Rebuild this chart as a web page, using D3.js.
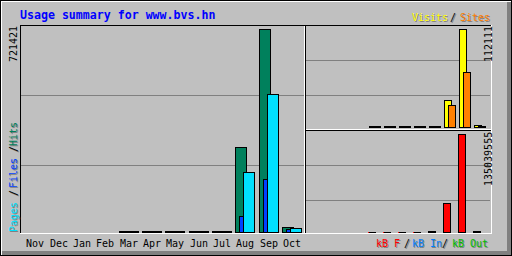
<!DOCTYPE html>
<html>
<head>
<meta charset="utf-8">
<script src="https://cdn.jsdelivr.net/npm/d3@7"></script>
<style>
  body { margin: 0; background: #c0c0c0; }
  svg text { font-family: "DejaVu Sans Mono", monospace; }
</style>
</head>
<body>
<div id="usage-chart"></div>
<script>
// Usage summary chart (webalizer style)

const months = ["Nov", "Dec", "Jan", "Feb", "Mar", "Apr", "May", "Jun", "Jul", "Aug", "Sep", "Oct"];
const hits   = [0, 0, 0, 0, 3000, 3000, 3000, 3000, 3000, 302000, 721421, 17700];
const files  = [0, 0, 0, 0, 2000, 2000, 2000, 2000, 2000, 56000, 187500, 10000];
const pages  = [0, 0, 0, 0, 2500, 2500, 2500, 2500, 2500, 212000, 490600, 14000];
const visits = [0, 0, 0, 0, 1000, 1000, 1000, 1000, 1000, 30900, 112111, 2300];
const sites  = [0, 0, 0, 0, 900, 900, 900, 900, 900, 25200, 62900, 1500];
const kbytes = [0, 0, 0, 0, 300000, 300000, 300000, 300000, 1500000, 40000000, 135039555, 2000000];

(function () {
  var draw_chart = function () {
    const width = 512, height = 256;

    const svg = d3.select("#usage-chart")
      .append("svg")
      .attr("width", width)
      .attr("height", height)
      .style("display", "block")
      .attr("shape-rendering", "crispEdges");

    const grey = "#c0c0c0", dkgrey = "#808080";

    // background and 3d border
    svg.append("rect").attr("width", width).attr("height", height).attr("fill", grey);
    svg.append("rect").attr("x", 0).attr("y", 251).attr("width", 512).attr("height", 5).attr("fill", dkgrey);
    svg.append("rect").attr("x", 507).attr("y", 0).attr("width", 5).attr("height", 256).attr("fill", dkgrey);
    svg.append("rect").attr("x", 1).attr("y", 1).attr("width", 510).attr("height", 1).attr("fill", "#fff");
    svg.append("rect").attr("x", 1).attr("y", 1).attr("width", 1).attr("height", 254).attr("fill", "#fff");
    svg.append("rect").attr("x", 0.5).attr("y", 0.5).attr("width", 511).attr("height", 255)
      .attr("fill", "none").attr("stroke", "#000");

    // gd style box: pixel corners, filled then outlined in black
    function box(x1, y1, x2, y2, color) {
      svg.append("rect").attr("x", x1).attr("y", y1)
        .attr("width", x2 - x1 + 1).attr("height", y2 - y1 + 1).attr("fill", color);
      svg.append("path")
        .attr("d", `M${x1 + 0.5},${y1 + 0.5}H${x2 + 0.5}V${y2 + 0.5}H${x1 + 0.5}Z`)
        .attr("fill", "none").attr("stroke", "#000");
    }
    function hline(x1, x2, y, color) {
      svg.append("rect").attr("x", x1).attr("y", y).attr("width", x2 - x1 + 1).attr("height", 1).attr("fill", color);
    }
    function vline(x, y1, y2, color) {
      svg.append("rect").attr("x", x).attr("y", y1).attr("width", 1).attr("height", y2 - y1 + 1).attr("fill", color);
    }

    // grid lines
    [95, 165].forEach(y => hline(21, 303, y, dkgrey));
    [60, 95, 165, 200].forEach(y => hline(306, 489, y, dkgrey));

    // panel frame
    hline(20, 490, 25, "#000");
    vline(20, 25, 233, "#000");
    hline(20, 491, 233, "#fff");
    vline(491, 25, 233, "#fff");
    vline(304, 26, 232, "#fff");
    vline(305, 25, 232, "#000");
    hline(306, 490, 129, "#fff");
    hline(305, 490, 130, "#000");

    // scales
    const xMain = d3.scaleLinear().domain([0, 12]).range([25.4, 305.4]);
    const yMain = d3.scaleLinear().domain([0, d3.max(hits)]).range([232, 29]);
    const xSide = d3.scaleLinear().domain([0, 12]).range([309, 489]);
    const yVis = d3.scaleLinear().domain([0, d3.max(visits)]).range([127, 29]);
    const yKb = d3.scaleLinear().domain([0, d3.max(kbytes)]).range([232, 134]);

    // hits / files / pages
    months.forEach((m, i) => {
      const x = Math.round(xMain(i));
      if (hits[i] > 0) box(x, Math.round(yMain(hits[i])), x + 11, 232, "#00805c");
      if (files[i] > 0) box(x + 4, Math.round(yMain(files[i])), x + 8, 232, "#0040ff");
      if (pages[i] > 0) box(x + 8, Math.round(yMain(pages[i])), x + 19, 232, "#00e0ff");
    });

    // visits / sites
    months.forEach((m, i) => {
      const x = Math.round(xSide(i));
      if (visits[i] > 0) box(x, Math.round(yVis(visits[i])), x + 7, 127, "#ffff00");
      if (sites[i] > 0) box(x + 4, Math.round(yVis(sites[i])), x + 11, 127, "#ff8000");
    });

    // kbytes
    months.forEach((m, i) => {
      const x = Math.round(xSide(i)) - 1;
      if (kbytes[i] > 0) box(x, Math.round(yKb(kbytes[i])), x + 7, 232, "#ff0000");
    });

    // month labels
    svg.selectAll(".month")
      .data(months)
      .enter()
      .append("text")
      .attr("class", "month")
      .attr("x", (d, i) => Math.round(xMain(i)) + 1)
      .attr("y", 247)
      .attr("font-size", "10px")
      .attr("fill", "#000")
      .text(d => d);

    // title
    svg.append("text")
      .attr("x", 20).attr("y", 19)
      .attr("font-size", "11.6px").attr("font-weight", "bold")
      .attr("fill", "#0000ff")
      .text("Usage summary for www.bvs.hn");

    // legend strings with shadow
    function legend(x, y, str, color, rot) {
      const t = rot ? `rotate(-90,${x},${y})` : null;
      svg.append("text").attr("x", x + 1).attr("y", y + 1).attr("transform", rot ? `rotate(-90,${x + 1},${y + 1})` : null)
        .attr("font-size", "10px").attr("fill", dkgrey).text(str);
      svg.append("text").attr("x", x).attr("y", y).attr("transform", t)
        .attr("font-size", "10px").attr("fill", color).text(str);
    }

    legend(412, 21, "Visits", "#ffff00");
    legend(450, 21, "/", "#000");
    legend(460, 21, "Sites", "#ff8000");

    legend(376, 247, "kB F", "#ff0000");
    legend(404, 247, "/", "#000");
    legend(412, 247, "kB In", "#0080ff");
    legend(442, 247, "/", "#000");
    legend(452, 247, "kB Out", "#00c000");

    legend(17, 232, "Pages", "#00e0ff", true);
    legend(17, 196, "/", "#000", true);
    legend(17, 188, "Files", "#0040ff", true);
    legend(17, 152, "/", "#000", true);
    legend(17, 146, "Hits", "#00805c", true);

    // max values
    function maxLabel(x, y, str) {
      svg.append("text").attr("x", x).attr("y", y)
        .attr("transform", `rotate(-90,${x},${y})`)
        .attr("font-size", "10px").attr("fill", "#000").text(str);
    }
    maxLabel(17, 62, d3.max(hits));
    maxLabel(492, 62, d3.max(visits));
    maxLabel(492, 186, d3.max(kbytes));
  };

  document.addEventListener("DOMContentLoaded", function () {
    draw_chart();
  });
})();
</script>
</body>
</html>
